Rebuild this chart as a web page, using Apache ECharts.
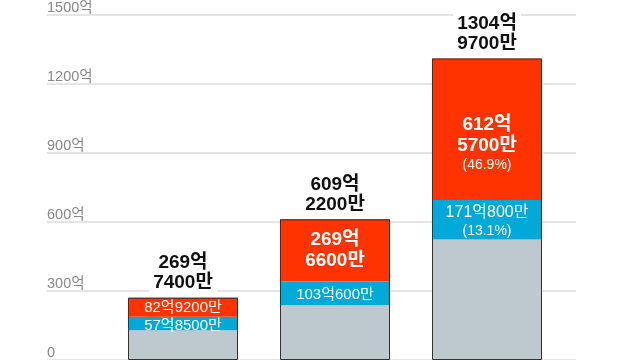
<!DOCTYPE html>
<html>
<head>
<meta charset="utf-8">
<script src="https://cdn.jsdelivr.net/npm/echarts@6/dist/echarts.min.js"></script>
<style>
html,body{margin:0;padding:0;background:#fff;}
#c{width:640px;height:360px;}
</style>
</head>
<body>
<div id="c"></div>
<script>
// Data (unit: 억)
const categories = ['A', 'B', 'C'];
const totals = [269.74, 609.22, 1304.97];
const redValues = [82.92, 269.66, 612.57];
const blueValues = [57.85, 103.06, 171.08];
const yTicks = [0, 300, 600, 900, 1200, 1500];

const grayValues = totals.map((t, i) => +(t - redValues[i] - blueValues[i]).toFixed(2));

function fmtParts(v) {
  const eok = Math.floor(v + 1e-9);
  const man = Math.round((v - eok) * 10000);
  return [eok + '억', man + '만'];
}
function pct(v, t) { return '(' + (v / t * 100).toFixed(1) + '%)'; }

const FONT = "'Liberation Sans', 'Noto Sans CJK KR', sans-serif";

// label layout modes (style, not data)
const redMode = ['one', 'two', 'twoPct'];
const blueMode = ['one', 'one', 'onePct'];

function labelFor(mode, v, t) {
  const p = fmtParts(v);
  if (mode === 'one') return '{s|' + p[0] + p[1] + '}';
  if (mode === 'onePct') return '{m|' + p[0] + p[1] + '}\n{p|' + pct(v, t) + '}';
  if (mode === 'two') return '{v|' + p[0] + '}\n{v|' + p[1] + '}';
  return '{v|' + p[0] + '}\n{v|' + p[1] + '}\n{p|' + pct(v, t) + '}';
}
const richInner = {
  s: { fontSize: 15, lineHeight: 17, color: '#fff', fontFamily: FONT },
  m: { fontSize: 16, lineHeight: 18, color: '#fff', fontFamily: FONT },
  v: { fontSize: 19, lineHeight: 21, color: '#fff', fontFamily: FONT, fontWeight: 'bold' },
  p: { fontSize: 14, lineHeight: 19, color: '#fff', fontFamily: FONT }
};
const redOffsets = [[0, 1], [0, 0], [0, 15]];
const blueOffsets = [[0, 2], [0, 1], [0, 2]];

const yMin = yTicks[0], yMax = yTicks[yTicks.length - 1], yInt = yTicks[1] - yTicks[0];

const chart = echarts.init(document.getElementById('c'), null, { renderer: 'canvas' });
chart.setOption({
  animation: false,
  backgroundColor: '#fff',
  grid: [
    { left: 47, right: 64, top: 13.5, height: 352.8, containLabel: false },
    { left: 107, right: 77, top: 13.5, height: 352.8, containLabel: false }
  ],
  xAxis: [
    { gridIndex: 0, type: 'value', min: 0, max: 1, show: false },
    { gridIndex: 1, type: 'category', data: categories, show: false }
  ],
  yAxis: [
    {
      gridIndex: 0, type: 'value', min: yMin, max: yMax, interval: yInt,
      axisLine: { show: false }, axisTick: { show: false },
      splitLine: { show: true, lineStyle: { color: '#dcdcdc', width: 1.5 } },
      axisLabel: {
        inside: true, margin: 0, verticalAlign: 'bottom', color: '#8a8a8a',
        fontSize: 14.5, fontFamily: FONT, lineHeight: 15,
        formatter: v => v === 0 ? '0' : v + '억'
      }
    },
    { gridIndex: 1, type: 'value', min: yMin, max: yMax, interval: yInt, show: false, splitLine: { show: false } }
  ],
  series: [
    {
      name: 'gray', type: 'bar', stack: 's', xAxisIndex: 1, yAxisIndex: 1,
      barWidth: 110, barGap: '-100%',
      itemStyle: { color: '#bdc8cf' },
      data: grayValues
    },
    {
      name: 'blue', type: 'bar', stack: 's', xAxisIndex: 1, yAxisIndex: 1,
      barWidth: 110,
      itemStyle: { color: '#00a9d8' },
      data: blueValues.map((v, i) => ({
        value: v,
        label: {
          show: true, position: 'inside', offset: blueOffsets[i],
          formatter: labelFor(blueMode[i], v, totals[i]), rich: richInner
        }
      }))
    },
    {
      name: 'red', type: 'bar', stack: 's', xAxisIndex: 1, yAxisIndex: 1,
      barWidth: 110,
      itemStyle: { color: '#ff3300' },
      data: redValues.map((v, i) => ({
        value: v,
        label: {
          show: true, position: 'inside', offset: redOffsets[i],
          formatter: labelFor(redMode[i], v, totals[i]), rich: richInner
        }
      }))
    },
    {
      name: 'total', type: 'bar', xAxisIndex: 1, yAxisIndex: 1,
      barWidth: 110, barGap: '-100%', z: 5,
      itemStyle: { color: 'rgba(0,0,0,0)', borderColor: '#333', borderWidth: 1 },
      label: {
        show: true, position: 'top', distance: 5,
        formatter: p => { const f = fmtParts(p.value); return f[0] + '\n' + f[1]; },
        fontSize: 19, fontWeight: 'bold', color: '#111', lineHeight: 20,
        fontFamily: FONT, backgroundColor: '#fff', padding: [0, 4]
      },
      data: totals
    }
  ]
});
</script>
</body>
</html>
